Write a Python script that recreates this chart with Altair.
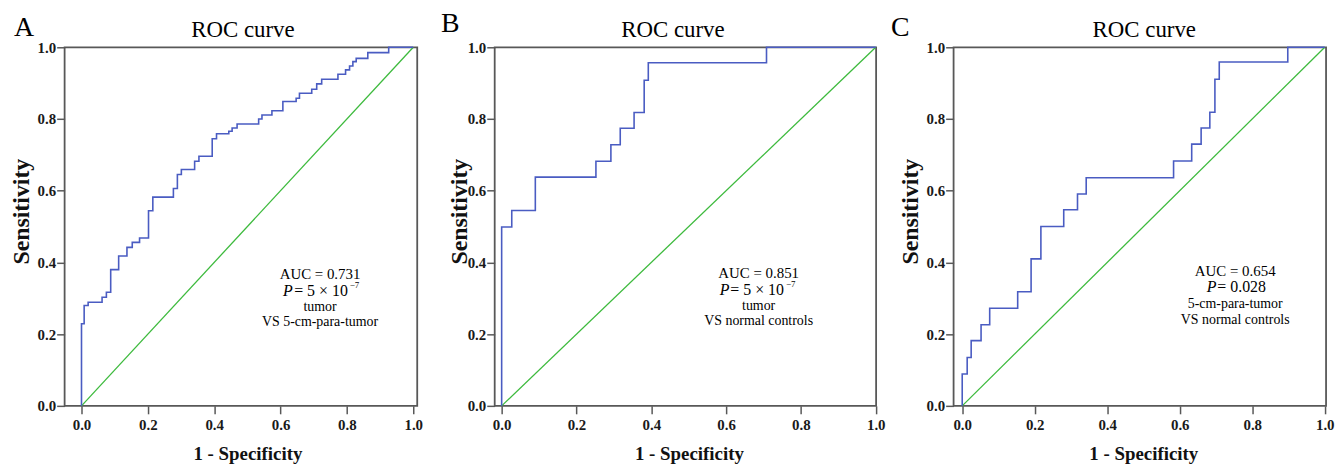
import altair as alt
import pandas as pd

FONT = "'Liberation Serif', 'Times New Roman', serif"
BLUE = "#4a5cc2"
GREEN = "#3dba3d"
FRAME = "#585858"

tick_values = [0.0, 0.2, 0.4, 0.6, 0.8, 1.0]
diag_pts = [0.0, 1.0]

# Panel A: tumor vs 5-cm-para-tumor
a_fpr = [0.0, 0.0, 0.008, 0.020, 0.062, 0.075, 0.088, 0.112, 0.137, 0.153, 0.175, 0.202, 0.215,
         0.277, 0.289, 0.301, 0.341, 0.354, 0.394, 0.407, 0.444, 0.454, 0.469, 0.534, 0.544,
         0.574, 0.607, 0.647, 0.657, 0.694, 0.709, 0.724, 0.773, 0.796, 0.808, 0.818, 0.828,
         0.863, 0.926, 1.0]
a_tpr = [0.0, 0.229, 0.280, 0.289, 0.303, 0.317, 0.380, 0.418, 0.442, 0.456, 0.468, 0.544, 0.582,
         0.606, 0.645, 0.659, 0.682, 0.696, 0.745, 0.759, 0.766, 0.775, 0.786, 0.800, 0.811,
         0.823, 0.849, 0.858, 0.872, 0.883, 0.898, 0.911, 0.925, 0.937, 0.948, 0.960, 0.969,
         0.985, 1.0, 1.0]

# Panel B: tumor vs normal controls
b_fpr = [0.0, 0.0, 0.027, 0.090, 0.252, 0.292, 0.317, 0.354, 0.381, 0.392, 0.708, 1.0]
b_tpr = [0.0, 0.499, 0.545, 0.638, 0.682, 0.728, 0.774, 0.818, 0.908, 0.957, 1.0, 1.0]

# Panel C: 5-cm-para-tumor vs normal controls
c_fpr = [0.0, 0.0, 0.0137, 0.0247, 0.052, 0.0758, 0.153, 0.190, 0.217, 0.280, 0.318, 0.342,
         0.583, 0.633, 0.659, 0.683, 0.697, 0.709, 0.898, 1.0]
c_tpr = [0.0, 0.089, 0.135, 0.182, 0.226, 0.272, 0.318, 0.410, 0.500, 0.547, 0.591, 0.636,
         0.683, 0.730, 0.775, 0.819, 0.911, 0.959, 1.0, 1.0]

titles = ["ROC curve", "ROC curve", "ROC curve"]
a_lines = ["AUC = 0.731", "tumor", "VS 5-cm-para-tumor"]
b_lines = ["AUC = 0.851", "tumor", "VS normal controls"]
c_lines = ["AUC = 0.654", "5-cm-para-tumor", "VS normal controls"]
a_p = ["P", "= 5 × 10", "−7"]
b_p = ["P", "= 5 × 10", "−7"]
c_p = ["P", "= 0.028", ""]


def panel(letter, title, fpr, tpr, lines, p_parts, g):
    x = alt.X("x:Q", scale=alt.Scale(domain=g["xdom"], nice=False, zero=False),
              axis=alt.Axis(values=tick_values, format=".1f", title="1 - Specificity",
                            titleX=g["xtx"], titleY=48, titleBaseline="middle",
                            labelFlush=False, labelOverlap=False))
    y = alt.Y("y:Q", scale=alt.Scale(domain=[0, 1], nice=False, zero=False),
              axis=alt.Axis(values=tick_values, format=".1f", title="Sensitivity",
                            titleX=g["ytx"], titleY=165, titleBaseline="middle",
                            titleAngle=270, labelFlush=False, labelOverlap=False))

    roc = pd.DataFrame({"x": fpr, "y": tpr, "i": list(range(len(fpr)))})
    diag = pd.DataFrame({"x": diag_pts, "y": diag_pts})

    diag_layer = alt.Chart(diag).mark_line(color=GREEN, strokeWidth=1.3).encode(x=x, y=y)
    roc_layer = alt.Chart(roc).mark_line(
        color=BLUE, strokeWidth=1.6, interpolate="step-after"
    ).encode(x=x, y=y, order="i:Q")

    cx, ys = g["cx"], g["ys"]
    main_df = pd.DataFrame({"x": [cx] * 3, "y": [ys[0], ys[2], ys[3]],
                            "t": lines, "fs": [15, 14, 14]})
    main_layer = alt.Chart(main_df).mark_text(
        font=FONT, align="center", baseline="middle", color="black"
    ).encode(x=x, y=y, text="t:N", size=alt.Size("fs:Q", scale=None, legend=None))

    p_df = pd.DataFrame({"x": [cx], "y": [ys[1]], "t": [p_parts[0]]})
    p_layer = alt.Chart(p_df).mark_text(
        font=FONT, fontSize=16, fontStyle="italic", align="right", baseline="middle",
        color="black", dx=g["p_dx"]
    ).encode(x=x, y=y, text="t:N")
    eq_df = pd.DataFrame({"x": [cx], "y": [ys[1]], "t": [p_parts[1]]})
    eq_layer = alt.Chart(eq_df).mark_text(
        font=FONT, fontSize=16, align="left", baseline="middle", color="black",
        dx=g["eq_dx"]
    ).encode(x=x, y=y, text="t:N")

    layers = [diag_layer, roc_layer, main_layer, p_layer, eq_layer]
    if p_parts[2]:
        sup_df = pd.DataFrame({"x": [cx], "y": [ys[1]], "t": [p_parts[2]]})
        layers.append(alt.Chart(sup_df).mark_text(
            font=FONT, fontSize=9, align="left", baseline="middle", color="black",
            dx=g["sup_dx"], dy=-6
        ).encode(x=x, y=y, text="t:N"))

    letter_df = pd.DataFrame({"t": [letter]})
    layers.append(alt.Chart(letter_df).mark_text(
        font=FONT, fontSize=28, align="left", baseline="alphabetic", color="black"
    ).encode(x=alt.value(g["lx"]), y=alt.value(g["ly"]), text="t:N"))

    title_df = pd.DataFrame({"t": [title]})
    layers.append(alt.Chart(title_df).mark_text(
        font=FONT, fontSize=23, align="center", baseline="alphabetic", color="black"
    ).encode(x=alt.value(g["tx"]), y=alt.value(-10), text="t:N"))

    return alt.layer(*layers).properties(width=g["width"], height=361)


geo_a = dict(xdom=[-0.0509, 1.012], width=355, cx=0.719, ys=[0.367, 0.319, 0.275, 0.233],
             p_dx=-27.5, eq_dx=-26, sup_dx=30, lx=-51, ly=-11, ytx=-43.5, xtx=184, tx=179.5)
geo_b = dict(xdom=[-0.0186, 1.001], width=384, cx=0.687, ys=[0.371, 0.324, 0.278, 0.237],
             p_dx=-29.5, eq_dx=-28.5, sup_dx=27.5, lx=-54, ly=-15, ytx=-35, xtx=195.5,
             tx=179.5)
geo_c = dict(xdom=[-0.0238, 1.0036], width=375, cx=0.753, ys=[0.376, 0.331, 0.285, 0.238],
             p_dx=-19, eq_dx=-18, sup_dx=0, lx=-63, ly=-11, ytx=-43, xtx=191, tx=192)

chart_a = panel("A", titles[0], a_fpr, a_tpr, a_lines, a_p, geo_a)
chart_b = panel("B", titles[1], b_fpr, b_tpr, b_lines, b_p, geo_b)
chart_c = panel("C", titles[2], c_fpr, c_tpr, c_lines, c_p, geo_c)

chart = alt.hconcat(chart_a, chart_b, chart_c, spacing=78, bounds="flush").properties(
    padding=0
).configure_view(
    stroke=FRAME, strokeWidth=1.8
).configure_axis(
    domain=False, grid=False, labelFont=FONT, labelFontSize=15, labelFontWeight="bold",
    labelColor="#1a1a1a", tickColor=FRAME, tickSize=8, tickWidth=1.5,
    titleFont=FONT, titleFontWeight="bold", titleColor="#111111"
).configure_axisX(
    titleFontSize=19, labelPadding=4
).configure_axisY(
    titleFontSize=24, labelPadding=1
)

chart.save("out.html", embed_options={"renderer": "svg", "actions": False})
